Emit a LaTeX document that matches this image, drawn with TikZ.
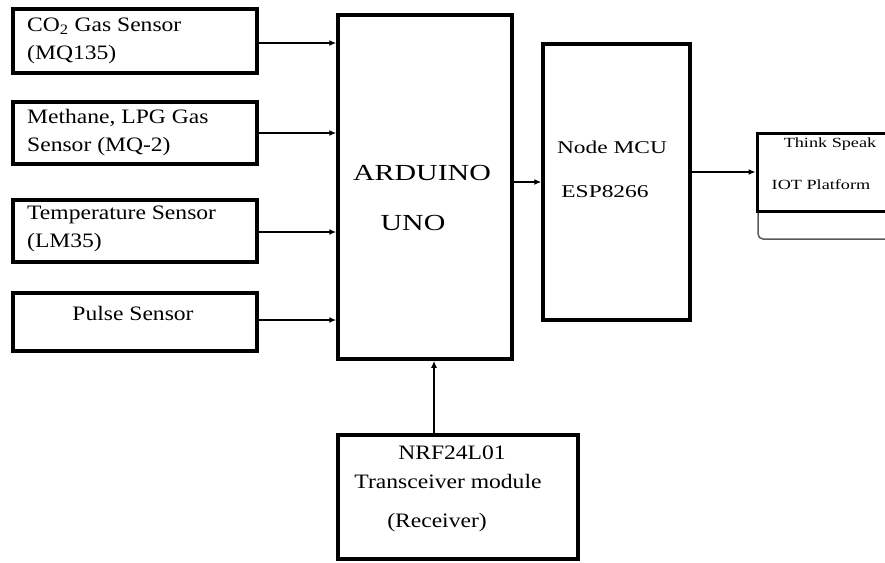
\documentclass[tikz,border=0pt]{standalone}
\usepackage{fontspec}
\setmainfont{Liberation Serif}[FakeStretch=1.15]
\newfontfamily\ardfont{Liberation Serif}[FakeStretch=1.3]
\usetikzlibrary{arrows.meta}
\begin{document}
\begin{tikzpicture}[x=1pt,y=-1pt,
  blk/.style={draw, line width=3.5pt, rectangle, inner sep=0pt},
  arr/.style={line width=1.3pt, -{Latex[length=7pt,width=6pt]}},
  txt/.style={inner sep=0pt, align=left, font=\fontsize{20.5}{28}\selectfont},
  big/.style={inner sep=0pt, font=\ardfont\fontsize{23}{28}\selectfont},
  mid/.style={inner sep=0pt, font=\ardfont\fontsize{18}{22}\selectfont},
  small/.style={inner sep=0pt, font=\ardfont\fontsize{14}{18}\selectfont}]
\clip (0,0) rectangle (885,562);
% sensor boxes
\node[blk, minimum width=244pt, minimum height=64pt] (s1) at (135,41) {};
\node[blk, minimum width=244pt, minimum height=62pt] (s2) at (135,133) {};
\node[blk, minimum width=244pt, minimum height=62pt] (s3) at (135,231) {};
\node[blk, minimum width=244pt, minimum height=58pt] (s4) at (135,322) {};
\node[txt, anchor=west] (t1) at (27,41) {CO\textsubscript{2} Gas Sensor\\(MQ135)};
\node[txt, anchor=west] (t2) at (27,133) {Methane, LPG Gas\\Sensor (MQ-2)};
\node[txt, anchor=west] (t3) at (27,229) {Temperature Sensor\\(LM35)};
\node[txt] (t4) at (133,313) {Pulse Sensor};
% arduino
\node[blk, minimum width=174pt, minimum height=344pt] (ard) at (425,187) {};
\node[big] (ardA) at (422,173) {ARDUINO};
\node[big] (ardB) at (413,223) {UNO};
% node mcu
\node[blk, minimum width=147pt, minimum height=276pt] (mcu) at (616.5,182) {};
\node[mid] (mcuA) at (612,147) {Node MCU};
\node[mid] (mcuB) at (605,192) {ESP8266};
% thinkspeak
\draw[gray!70!black, line width=1.5pt, rounded corners=5pt] (758,205) rectangle (900,239);
\node[draw, fill=white, line width=3pt, minimum width=140pt, minimum height=78pt, inner sep=0pt] (ts) at (827,172) {};
\node[small] (tsA) at (830,144) {Think Speak};
\node[small] (tsB) at (821,185) {IOT Platform};
% nrf
\node[blk, minimum width=240pt, minimum height=124pt] (nrf) at (458,497) {};
\node[txt] (nA) at (452,453) {NRF24L01};
\node[txt] (nB) at (448,481) {Transceiver module};
\node[txt] (nC) at (437,523) {(Receiver)};
% connectors
\coordinate (c1) at (0,43);
\coordinate (c2) at (0,133);
\coordinate (c3) at (0,232);
\coordinate (c4) at (0,320);
\coordinate (cup) at (434,0);
\draw[arr] (s1.east |- c1) -- (ard.west |- c1);
\draw[arr] (s2.east |- c2) -- (ard.west |- c2);
\draw[arr] (s3.east |- c3) -- (ard.west |- c3);
\draw[arr] (s4.east |- c4) -- (ard.west |- c4);
\draw[arr] (ard.east |- mcu) -- (mcu.west);
\draw[arr] (mcu.east |- ts.west) -- (ts.west);
\draw[arr] (nrf.north -| cup) -- (ard.south -| cup);
\end{tikzpicture}
\end{document}
